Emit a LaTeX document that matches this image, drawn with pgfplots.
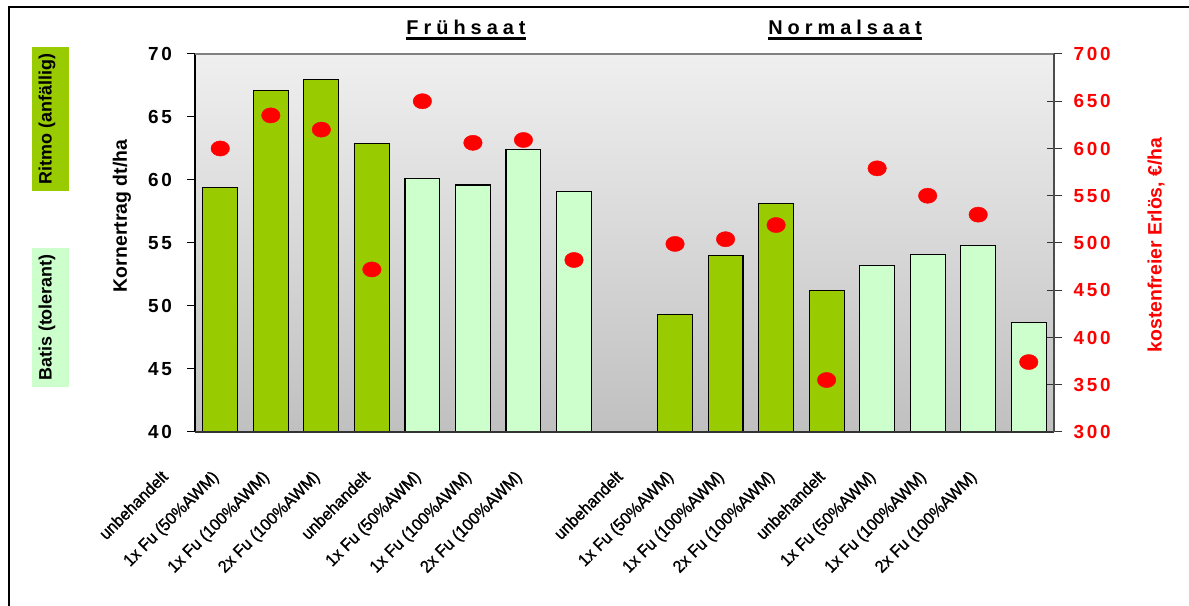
\documentclass[border=0pt]{standalone}
\usepackage{fontspec}
\setmainfont{Liberation Sans}
\newfontfamily\spaced{Liberation Sans}[LetterSpace=14]
\newfontfamily\tspaced{Liberation Sans}[LetterSpace=25]
\newfontfamily\lab{Liberation Sans}[FakeStretch=0.95, FakeBold=1.2]
\usepackage{pgfplots}
\pgfplotsset{compat=1.18}
\definecolor{dkgreen}{HTML}{99CC00}
\definecolor{ltgreen}{HTML}{CCFFCC}
\definecolor{bgtop}{HTML}{EFEFEF}
\definecolor{bgbot}{HTML}{C0C0C0}
\definecolor{dotred}{HTML}{FF0000}
\begin{document}
\begin{tikzpicture}[x=1bp,y=1bp]
\path[use as bounding box] (0,0) rectangle (1189,606);
\fill[white] (0,0) rectangle (1189,606);
\draw[line width=1.5bp] (9,0) -- (9,599) -- (1189,599);
% legend boxes
\fill[dkgreen] (32,415) rectangle (69,559);
\node[rotate=90, font=\bfseries\fontsize{18}{18}\selectfont] at (47,487) {Ritmo (anfällig)};
\fill[ltgreen] (32,219) rectangle (69,358);
\node[rotate=90, font=\bfseries\fontsize{18}{18}\selectfont] at (47,288.5) {Batis (tolerant)};
% titles
\node[anchor=base, inner sep=0pt, font=\tspaced\bfseries\fontsize{20}{20}\selectfont] (t1) at (466,571) {Frühsaat};
\draw[line width=2.3bp] ([yshift=-3.5bp]t1.base west) -- ([yshift=-3.5bp]t1.base east);
\node[anchor=base, inner sep=0pt, font=\tspaced\bfseries\fontsize{20}{20}\selectfont] (t2) at (845,571) {Normalsaat};
\draw[line width=2.3bp] ([yshift=-3.5bp]t2.base west) -- ([yshift=-3.5bp]t2.base east);
% axis labels
\node[rotate=90, font=\bfseries\fontsize{19.5}{19.5}\selectfont] at (122,390) {Kornertrag dt/ha};
\node[rotate=90, text=dotred, font=\bfseries\fontsize{19.5}{19.5}\selectfont] at (1156,361) {kostenfreier Erlös, €/ha};
\begin{axis}[
  name=main, at={(195bp,174bp)}, anchor=south west,
  scale only axis, width=859bp, height=378bp,
  xmin=0, xmax=17, ymin=40, ymax=70,
  axis line style={draw=none},
  axis background/.style={top color=bgtop, bottom color=bgbot},
  /pgf/number format/assume math mode=true,
  ytick={40,45,...,70}, ytick pos=left, tick align=outside,
  major tick length=8bp,
  ytick style={black, line width=1bp},
  yticklabel style={font=\spaced\bfseries\fontsize{19}{19}\selectfont, anchor=east, inner sep=0pt, xshift=-15bp},
  xtick={0.5,1.5,...,16.5}, xtick pos=bottom, xtick style={draw=none},
  xticklabels={unbehandelt, {1x Fu (50\%AWM)}, {1x Fu (100\%AWM)}, {2x Fu (100\%AWM)},
               unbehandelt, {1x Fu (50\%AWM)}, {1x Fu (100\%AWM)}, {2x Fu (100\%AWM)}, {},
               unbehandelt, {1x Fu (50\%AWM)}, {1x Fu (100\%AWM)}, {2x Fu (100\%AWM)},
               unbehandelt, {1x Fu (50\%AWM)}, {1x Fu (100\%AWM)}, {2x Fu (100\%AWM)}},
  xticklabel style={font=\lab\fontsize{17}{17}\selectfont, anchor=north east, inner sep=0pt, xshift=-60bp, yshift=-29bp, rotate=45},
]
\addplot[ybar, bar width=0.69, bar shift=0pt, fill=dkgreen, draw=black, line width=1.1bp]
  coordinates {(0.5,59.4) (1.5,67.1) (2.5,68.0) (3.5,62.9) (9.5,49.3) (10.5,54.0) (11.5,58.15) (12.5,51.2)};
\addplot[ybar, bar width=0.69, bar shift=0pt, fill=ltgreen, draw=black, line width=1.1bp]
  coordinates {(4.5,60.1) (5.5,59.6) (6.5,62.4) (7.5,59.1) (13.5,53.2) (14.5,54.1) (15.5,54.8) (16.5,48.7)};
\end{axis}
\begin{axis}[
  at={(195bp,174bp)}, anchor=south west,
  scale only axis, width=859bp, height=378bp,
  xmin=0, xmax=17, ymin=300, ymax=700,
  axis line style={draw=none},
  hide x axis,
  /pgf/number format/assume math mode=true,
  ytick={300,350,...,700}, ytick pos=right, tick align=center,
  major tick length=15bp,
  ytick style={black!80, line width=1bp},
  yticklabel style={text=dotred, font=\spaced\bfseries\fontsize{19}{19}\selectfont, anchor=west, inner sep=0pt, xshift=12bp},
]
\addplot[only marks, mark=*, mark size=7.6bp, mark options={xscale=1.22, fill=dotred, draw=dotred}]
  coordinates {(0.5,600) (1.5,635) (2.5,620) (3.5,472) (4.5,650) (5.5,606) (6.5,609) (7.5,482)
               (9.5,499) (10.5,504) (11.5,519) (12.5,355) (13.5,579) (14.5,550) (15.5,530) (16.5,374)};
\end{axis}
\draw[black, line width=1.3bp] (main.south west) -- (main.north west);
\draw[gray, line width=1.3bp] (main.north west) -- (main.north east);
\draw[black!80, line width=1.3bp] (main.south west) -- (main.south east);
\draw[black!70, line width=1.3bp] (main.south east) -- (main.north east);
\end{tikzpicture}
\end{document}
